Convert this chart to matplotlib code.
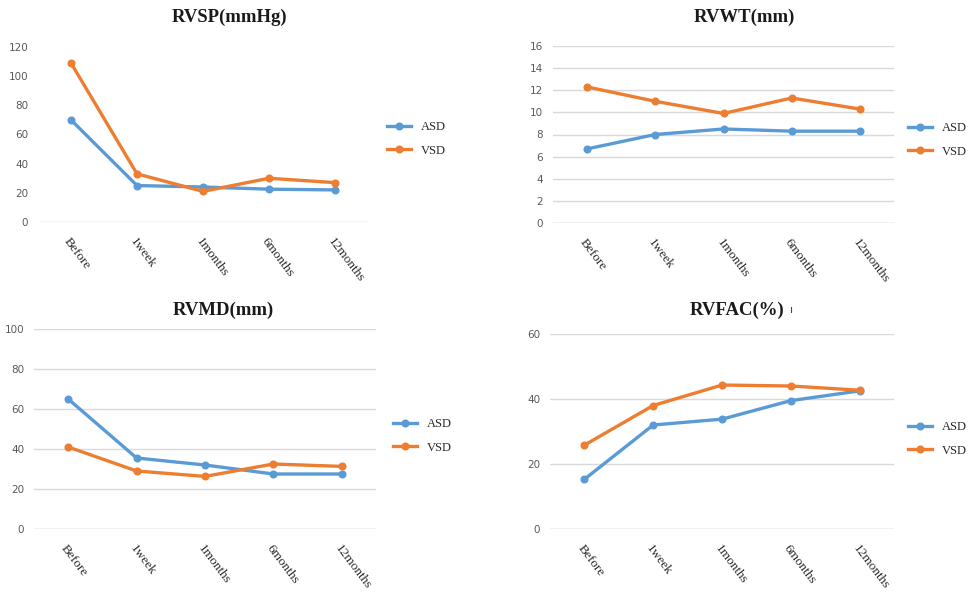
import matplotlib
matplotlib.use("Agg")
import matplotlib.pyplot as plt

categories = ["Before", "1week", "1months", "6months", "12months"]

rvsp_asd = [70, 25, 24, 22.5, 22]
rvsp_vsd = [109, 33, 21, 30, 27]
rvwt_asd = [6.7, 8.0, 8.5, 8.3, 8.3]
rvwt_vsd = [12.3, 11.0, 9.9, 11.3, 10.3]
rvmd_asd = [65, 35.5, 32, 27.5, 27.5]
rvmd_vsd = [41, 29, 26.3, 32.5, 31.3]
rvfac_asd = [15.3, 32, 33.8, 39.5, 42.5]
rvfac_vsd = [25.8, 38, 44.3, 44, 42.7]

ASD_C = "#5B9BD5"
VSD_C = "#ED7D31"
W, H = 972, 593

fig = plt.figure(figsize=(W / 100, H / 100), dpi=100)
fig.patch.set_facecolor("white")


def px_axes(l, r, t, b):
    return fig.add_axes([l / W, 1 - b / H, (r - l) / W, (b - t) / H])


panels = [
    # (l, r, t, b), title, asd, vsd, ymax, ystep, grid, (title_x, title_y), legend (x, y)
    ((38, 368, 47, 222), "RVSP(mmHg)", rvsp_asd, rvsp_vsd, 120, 20, False, (230, 17), (387, 139)),
    ((553, 894, 46, 223), "RVWT(mm)", rvwt_asd, rvwt_vsd, 16, 2, True, (744, 17), (908, 140)),
    ((34, 376, 329, 529), "RVMD(mm)", rvmd_asd, rvmd_vsd, 100, 20, True, (223, 310), (393, 436)),
    ((550, 894, 334, 529), "RVFAC(%)", rvfac_asd, rvfac_vsd, 60, 20, True, (737, 310), (908, 439)),
]

for (l, r, t, b), title, asd, vsd, ymax, ystep, grid, (tx, ty), (lx, ly) in panels:
    ax = px_axes(l, r, t, b)
    x = list(range(len(categories)))
    ax.plot(x, asd, color=ASD_C, lw=2.4, marker="o", ms=4.8, label="ASD", zorder=3)
    ax.plot(x, vsd, color=VSD_C, lw=2.4, marker="o", ms=4.8, label="VSD", zorder=3)
    ax.set_xlim(-0.5, len(categories) - 0.5)
    ax.set_ylim(0, ymax)
    ax.set_yticks(list(range(0, ymax + 1, ystep)))
    for s in ax.spines.values():
        s.set_visible(False)
    if grid:
        ax.yaxis.grid(True, color="#d9d9d9", lw=1)
    ax.axhline(0, color="#d9d9d9", lw=1, zorder=1)
    ax.set_axisbelow(True)
    ax.tick_params(axis="both", length=0)
    ax.tick_params(axis="y", labelsize=7.5, labelcolor="#595959", pad=7)
    ax.set_xticks(x)
    ax.set_xticklabels(categories, rotation=-53, ha="left", va="top",
                       rotation_mode="anchor", fontsize=9.5, family="Liberation Serif",
                       color="#2b2b2b")
    ax.tick_params(axis="x", pad=10)
    fig.text(tx / W, 1 - ty / H, title, ha="center", va="center",
             fontsize=13.5, fontweight="bold", family="Liberation Serif", color="#1a1a1a")
    leg = ax.legend(loc="center left", bbox_to_anchor=(lx / W, 1 - ly / H),
                    bbox_transform=fig.transFigure, frameon=False,
                    prop={"family": "Liberation Serif", "size": 9},
                    handlelength=1.9, labelspacing=0.9, handletextpad=0.8,
                    borderpad=0, borderaxespad=0)
    for txt in leg.get_texts():
        txt.set_color("#262626")

# small mark beside the RVFAC title, as in the reference
fig.text(792 / W, 1 - 310 / H, "ı", ha="center", va="center", fontsize=8, color="#444444")

fig.savefig("out.png", dpi=100, facecolor="white")
